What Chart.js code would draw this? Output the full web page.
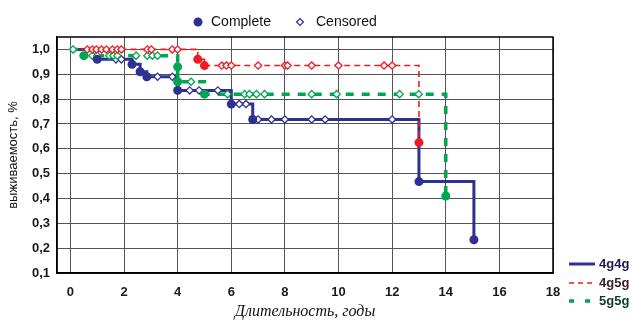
<!DOCTYPE html>
<html>
<head>
<meta charset="utf-8">
<script src="https://cdn.jsdelivr.net/npm/chart.js@4"></script>
<style>
  html, body { margin: 0; padding: 0; background: #fff; }
  canvas { display: block; }
</style>
</head>
<body>
<canvas id="survivalChart" width="635" height="322"></canvas>
<script>
// axis ticks
const xTicks = [0, 2, 4, 6, 8, 10, 12, 14, 16, 18];
const yTicks = [0.1, 0.2, 0.3, 0.4, 0.5, 0.6, 0.7, 0.8, 0.9, 1.0];

// 4g4g - step curve (time, survival)
const t4g4g = [0, 1.0, 2.3, 2.6, 2.85, 4.0, 6.0, 6.8, 13.0, 15.05];
const s4g4g = [1.0, 0.96, 0.94, 0.91, 0.89, 0.835, 0.78, 0.718, 0.468, 0.234];
const done4g4gT = [1.0, 2.3, 2.6, 2.85, 4.0, 6.0, 6.8, 13.0, 15.05];
const done4g4gS = [0.96, 0.94, 0.91, 0.89, 0.835, 0.78, 0.718, 0.468, 0.234];
const cens4g4gT = [1.7, 1.9, 3.25, 3.8, 4.45, 4.8, 5.5, 6.3, 6.55, 7.0, 7.5, 8.0, 9.0, 9.5, 12.0];
const cens4g4gS = [0.96, 0.96, 0.89, 0.89, 0.835, 0.835, 0.835, 0.78, 0.78, 0.718, 0.718, 0.718, 0.718, 0.718, 0.718];

// 4g5g
const t4g5g = [0, 4.75, 5.0, 13.0];
const s4g5g = [1.0, 0.96, 0.935, 0.625];
const done4g5gT = [4.75, 5.0, 13.0];
const done4g5gS = [0.96, 0.935, 0.625];
const cens4g5gT = [0.63, 0.82, 0.97, 1.16, 1.34, 1.57, 1.75, 1.9, 2.87, 3.02, 3.8, 4.0,
                   5.65, 5.82, 6.0, 7.0, 8.0, 8.1, 9.0, 10.0, 11.7, 12.0];
const cens4g5gS = [1.0, 1.0, 1.0, 1.0, 1.0, 1.0, 1.0, 1.0, 1.0, 1.0, 1.0, 1.0,
                   0.935, 0.935, 0.935, 0.935, 0.935, 0.935, 0.935, 0.935, 0.935, 0.935];

// 5g5g
const t5g5g = [0, 0.5, 4.0, 4.0, 5.0, 14.0];
const s5g5g = [1.0, 0.975, 0.93, 0.87, 0.82, 0.41];
const done5g5gT = [0.5, 4.0, 4.0, 5.0, 14.0];
const done5g5gS = [0.975, 0.93, 0.87, 0.82, 0.41];
const cens5g5gT = [0.1, 0.82, 1.0, 1.45, 1.6, 1.75, 2.45, 2.87, 3.06, 3.25, 4.5,
                   5.86, 6.5, 6.68, 6.94, 7.24, 9.0, 9.93, 12.28, 12.99];
const cens5g5gS = [1.0, 0.975, 0.975, 0.975, 0.975, 0.975, 0.975, 0.975, 0.975, 0.975, 0.87,
                   0.82, 0.82, 0.82, 0.82, 0.82, 0.82, 0.82, 0.82, 0.82];

const BLUE = '#2e3192';
const RED = '#ed1c24';
const GREEN = '#00a651';

function pts(ts, ss) {
    return ts.map((t, i) => ({ x: t, y: ss[i] }));
}

function stepLine(label, ts, ss, color, width, dash) {
    return {
        label: label,
        data: pts(ts, ss),
        borderColor: color,
        borderWidth: width,
        borderDash: dash,
        stepped: true,
        pointRadius: 0,
        fill: false
    };
}

function doneDots(ts, ss, color) {
    return {
        data: pts(ts, ss),
        showLine: false,
        pointStyle: 'circle',
        pointRadius: 4.5,
        pointBackgroundColor: color,
        pointBorderWidth: 0
    };
}

function censDots(ts, ss, color) {
    return {
        data: pts(ts, ss),
        showLine: false,
        pointStyle: 'rectRot',
        pointRadius: 3.6,
        pointBackgroundColor: '#ffffff',
        pointBorderColor: color,
        pointBorderWidth: 1.3
    };
}

const tickFont = { family: 'Liberation Sans', size: 13, weight: 'bold' };

// frame on top/right plus the two legends
const extras = {
    id: 'extras',
    afterDraw(chart) {
        const ctx = chart.ctx;
        const a = chart.chartArea;
        ctx.save();
        ctx.strokeStyle = '#000';
        ctx.lineWidth = 1.5;
        ctx.strokeRect(a.left, a.top, a.right - a.left, a.bottom - a.top);

        // top legend
        ctx.font = '14px "Liberation Sans"';
        ctx.textBaseline = 'middle';
        ctx.fillStyle = BLUE;
        ctx.beginPath();
        ctx.arc(198, 22, 4.5, 0, Math.PI * 2);
        ctx.fill();
        ctx.fillStyle = '#111';
        ctx.fillText('Complete', 211, 22);
        ctx.strokeStyle = BLUE;
        ctx.lineWidth = 1.2;
        ctx.beginPath();
        ctx.moveTo(300, 18.5); ctx.lineTo(303.5, 22); ctx.lineTo(300, 25.5); ctx.lineTo(296.5, 22); ctx.closePath();
        ctx.stroke();
        ctx.fillText('Censored', 316, 22);

        // series legend
        const rows = [
            { y: 264, color: BLUE, width: 3, dash: [], text: '4g4g', tc: '#1b1b4d' },
            { y: 283, color: RED, width: 1.6, dash: [5, 4], text: '4g5g', tc: '#3a1c2a' },
            { y: 301, color: GREEN, width: 3.5, dash: [5, 11], text: '5g5g', tc: '#0d3b28' }
        ];
        ctx.font = 'bold 13px "Liberation Sans"';
        rows.forEach(r => {
            ctx.strokeStyle = r.color;
            ctx.lineWidth = r.width;
            ctx.setLineDash(r.dash);
            ctx.beginPath();
            ctx.moveTo(569, r.y);
            ctx.lineTo(595, r.y);
            ctx.stroke();
            ctx.setLineDash([]);
            ctx.fillStyle = r.tc;
            ctx.fillText(r.text, 599, r.y);
        });
        ctx.restore();
    }
};

const ctx = document.getElementById('survivalChart').getContext('2d');
new Chart(ctx, {
    type: 'line',
    data: {
        datasets: [
            doneDots(done4g5gT, done4g5gS, RED),
            doneDots(done5g5gT, done5g5gS, GREEN),
            doneDots(done4g4gT, done4g4gS, BLUE),
            censDots(cens4g5gT, cens4g5gS, RED),
            censDots(cens5g5gT, cens5g5gS, GREEN),
            censDots(cens4g4gT, cens4g4gS, BLUE),
            stepLine('4g5g', t4g5g, s4g5g, RED, 1.6, [6, 4]),
            stepLine('5g5g', t5g5g, s5g5g, GREEN, 3.5, [8, 8]),
            stepLine('4g4g', t4g4g, s4g4g, BLUE, 3, [])
        ]
    },
    options: {
        responsive: false,
        animation: false,
        devicePixelRatio: 1,
        layout: { padding: { top: 37, right: 82, left: 0, bottom: 0 } },
        plugins: {
            legend: { display: false },
            tooltip: { enabled: false }
        },
        scales: {
            x: {
                type: 'linear',
                min: -0.5,
                max: 18,
                afterFit: s => { s.height = 49; },
                afterBuildTicks: s => { s.ticks = xTicks.map(v => ({ value: v })); },
                grid: { color: '#555', lineWidth: 1, drawTicks: false },
                border: { color: '#000', width: 1.5 },
                ticks: { padding: 12, font: tickFont, color: '#1a1a1a', maxRotation: 0, autoSkip: false },
                title: {
                    display: true,
                    text: 'Длительность, годы',
                    font: { family: 'Liberation Serif', style: 'italic', size: 16 },
                    color: '#111',
                    padding: { top: 0, bottom: 1 }
                }
            },
            y: {
                type: 'linear',
                min: 0.1,
                max: 1.05,
                afterFit: s => { s.width = 57; },
                afterBuildTicks: s => { s.ticks = yTicks.map(v => ({ value: v })); },
                grid: { color: '#555', lineWidth: 1, drawTicks: false },
                border: { color: '#000', width: 1.5 },
                ticks: {
                    padding: 7,
                    font: tickFont,
                    color: '#1a1a1a',
                    autoSkip: false,
                    callback: v => v.toFixed(1).replace('.', ',')
                },
                title: {
                    display: true,
                    text: 'выживаемость, %',
                    font: { family: 'Liberation Sans', size: 13 },
                    color: '#111',
                    padding: { top: 6, bottom: 0 }
                }
            }
        }
    },
    plugins: [extras]
});
</script>
</body>
</html>
